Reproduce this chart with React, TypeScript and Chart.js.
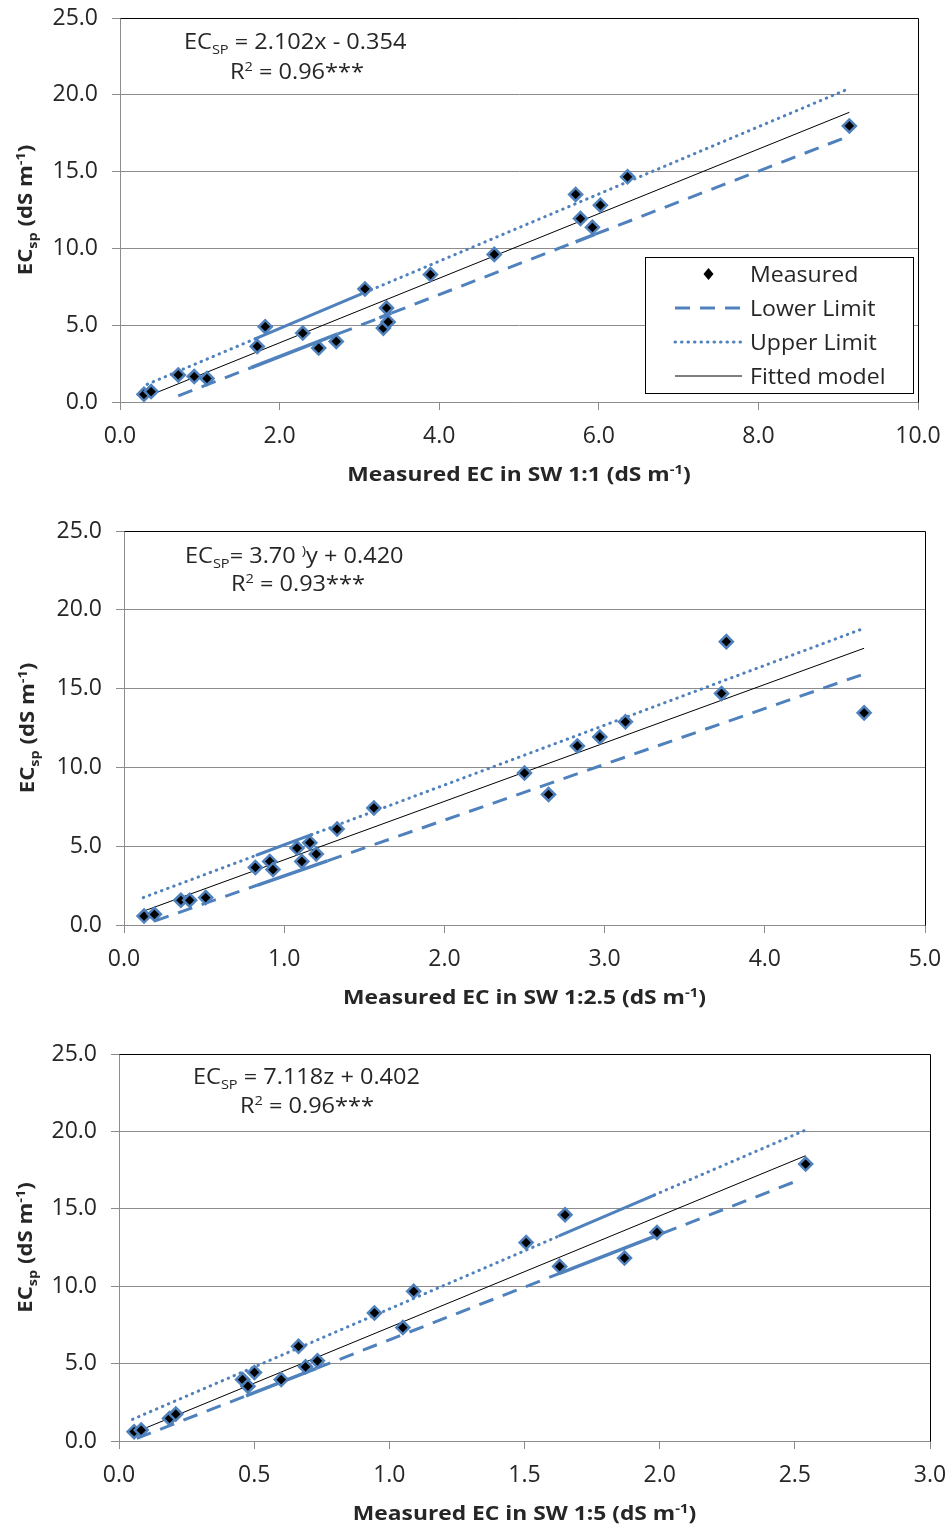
import React, { useEffect, useRef } from "react";
import { Chart, registerables } from "chart.js";

Chart.register(...registerables);

// ---------------- data ----------------
// Panel 1 : SW 1:1
const SW11_X = [0.30, 0.39, 0.73, 0.93, 1.09, 1.72, 1.82, 2.29, 2.49, 2.71, 3.07, 3.30, 3.34, 3.36, 3.89, 4.69, 5.71, 5.77, 5.92, 6.02, 6.36, 9.14];
const SW11_Y = [0.50, 0.68, 1.76, 1.66, 1.53, 3.62, 4.90, 4.49, 3.51, 3.94, 7.36, 4.81, 6.12, 5.21, 8.30, 9.61, 13.51, 11.94, 11.37, 12.81, 14.66, 17.97];
const SW11_FIT_X = [0.30, 9.14];
const SW11_FIT_Y = [0.28, 18.86];
const SW11_UP_X = [0.34, 1.70, 3.07, 9.12];
const SW11_UP_Y = [1.15, 4.13, 7.13, 20.37];
const SW11_LOW_X = [0.73, 1.64, 2.73, 3.25, 3.40, 5.71, 5.95, 9.12];
const SW11_LOW_Y = [0.40, 2.23, 4.43, 5.47, 5.78, 10.43, 10.91, 17.28];

// Panel 2 : SW 1:2.5
const SW125_X = [0.125, 0.19, 0.355, 0.41, 0.51, 0.82, 0.91, 0.93, 1.08, 1.11, 1.16, 1.20, 1.33, 1.56, 2.50, 2.65, 2.83, 2.97, 3.13, 3.73, 3.76, 4.62];
const SW125_Y = [0.57, 0.68, 1.57, 1.57, 1.74, 3.65, 4.03, 3.52, 4.88, 4.03, 5.22, 4.50, 6.09, 7.43, 9.64, 8.28, 11.36, 11.93, 12.89, 14.69, 17.98, 13.46];
const SW125_FIT_X = [0.125, 4.62];
const SW125_FIT_Y = [0.89, 17.56];
const SW125_UP_X = [0.12, 0.83, 1.17, 4.62];
const SW125_UP_Y = [1.74, 4.44, 5.73, 18.83];
const SW125_LOW_X = [0.19, 0.83, 1.27, 4.60];
const SW125_LOW_Y = [0.25, 2.52, 4.07, 15.86];

// Panel 3 : SW 1:5
const SW15_X = [0.056, 0.082, 0.187, 0.21, 0.457, 0.477, 0.501, 0.60, 0.664, 0.69, 0.734, 0.945, 1.05, 1.09, 1.506, 1.63, 1.65, 1.87, 1.99, 2.54];
const SW15_Y = [0.60, 0.71, 1.46, 1.74, 3.97, 3.54, 4.43, 3.97, 6.12, 4.79, 5.18, 8.27, 7.33, 9.67, 12.82, 11.28, 14.61, 11.82, 13.47, 17.89];
const SW15_FIT_X = [0.05, 2.54];
const SW15_FIT_Y = [0.49, 18.43];
const SW15_UP_X = [0.05, 1.63, 1.98, 2.54];
const SW15_UP_Y = [1.40, 13.26, 15.89, 20.09];
const SW15_LOW_X = [0.066, 0.47, 0.73, 1.63, 2.01, 2.51];
const SW15_LOW_Y = [0.17, 2.92, 4.69, 10.83, 13.41, 16.82];

// tick values
const Y_TICKS = [0, 5, 10, 15, 20, 25];
const X_TICKS_1 = [0, 2, 4, 6, 8, 10];
const X_TICKS_2 = [0, 1, 2, 3, 4, 5];
const X_TICKS_3 = [0, 0.5, 1, 1.5, 2, 2.5, 3];

const SERIES_NAMES = ["Measured", "Lower Limit", "Upper Limit", "Fitted model"];

// ---------------- styling ----------------
const FONT = "'Open Sans', sans-serif";
const TEXT = "#262626";
const BLUE = "#4f81bd";
const GRID = "#8c8c8c";
const STRETCH = 1.12;
const LOW_DASH = [15, 10];
const UP_DASH = [0.5, 6];

type Seg = [string, number]; // 0 normal, 1 sup, -1 sub

function segFont(size: number, weight: string, k: number) {
  const s = k === 0 ? size : Math.round(size * 0.64);
  return `${weight} ${s}px ${FONT}`;
}
function richWidth(ctx: CanvasRenderingContext2D, segs: Seg[], size: number, weight: string) {
  let w = 0;
  for (const [t, k] of segs) {
    ctx.font = segFont(size, weight, k);
    w += ctx.measureText(t).width;
  }
  return w;
}
function drawRich(ctx: CanvasRenderingContext2D, segs: Seg[], x: number, y: number, size: number, weight: string, align: "left" | "center", sx: number) {
  const w = richWidth(ctx, segs, size, weight) * sx;
  const x0 = align === "center" ? x - w / 2 : x;
  ctx.save();
  ctx.translate(x0, y);
  ctx.scale(sx, 1);
  let cx = 0;
  ctx.fillStyle = TEXT;
  ctx.textBaseline = "alphabetic";
  ctx.textAlign = "left";
  for (const [t, k] of segs) {
    ctx.font = segFont(size, weight, k);
    const dy = k === 1 ? -size * 0.36 : k === -1 ? size * 0.24 : 0;
    ctx.fillText(t, cx, dy);
    cx += ctx.measureText(t).width;
  }
  ctx.restore();
}

function zip(xs: number[], ys: number[]) {
  return xs.map((x, i) => ({ x, y: ys[i] }));
}

interface Panel {
  top: number;
  height: number;
  area: { left: number; right: number; top: number; bottom: number };
  xMax: number;
  xTicks: number[];
  xs: number[]; ys: number[];
  fitX: number[]; fitY: number[];
  upX: number[]; upY: number[];
  lowX: number[]; lowY: number[];
  upSolid: number[]; lowSolid: number[]; // segment indices drawn as overlapped (solid) strokes
  eq: Seg[];
  r2: Seg[];
  eqPos: [number, number, number, number];
  xTitle: Seg[];
  yTitleX: number;
  legend: boolean;
}

const Y_TITLE: Seg[] = [["EC", 0], ["sp", -1], [" (dS m", 0], ["-1", 1], [")", 0]];

const PANELS: Panel[] = [
  {
    top: 0, height: 505,
    area: { left: 120, right: 918, top: 18, bottom: 402 },
    xMax: 10, xTicks: X_TICKS_1,
    xs: SW11_X, ys: SW11_Y,
    fitX: SW11_FIT_X, fitY: SW11_FIT_Y, upX: SW11_UP_X, upY: SW11_UP_Y, lowX: SW11_LOW_X, lowY: SW11_LOW_Y,
    upSolid: [1], lowSolid: [1, 3, 5],
    eq: [["EC", 0], ["SP", -1], [" = 2.102x - 0.354", 0]],
    r2: [["R", 0], ["2", 1], [" = 0.96***", 0]],
    eqPos: [64, 31, 110, 61],
    xTitle: [["Measured EC in SW 1:1 (dS m", 0], ["-1", 1], [")", 0]],
    yTitleX: 32,
    legend: true,
  },
  {
    top: 505, height: 510,
    area: { left: 124, right: 925, top: 531, bottom: 925 },
    xMax: 5, xTicks: X_TICKS_2,
    xs: SW125_X, ys: SW125_Y,
    fitX: SW125_FIT_X, fitY: SW125_FIT_Y, upX: SW125_UP_X, upY: SW125_UP_Y, lowX: SW125_LOW_X, lowY: SW125_LOW_Y,
    upSolid: [1], lowSolid: [1],
    eq: [["EC", 0], ["SP", -1], ["= 3.70 ", 0], [")", 1], ["y + 0.420", 0]],
    r2: [["R", 0], ["2", 1], [" = 0.93***", 0]],
    eqPos: [61, 32, 107, 60],
    xTitle: [["Measured EC in SW 1:2.5 (dS m", 0], ["-1", 1], [")", 0]],
    yTitleX: 34,
    legend: false,
  },
  {
    top: 1015, height: 513,
    area: { left: 119, right: 930, top: 1054, bottom: 1441 },
    xMax: 3, xTicks: X_TICKS_3,
    xs: SW15_X, ys: SW15_Y,
    fitX: SW15_FIT_X, fitY: SW15_FIT_Y, upX: SW15_UP_X, upY: SW15_UP_Y, lowX: SW15_LOW_X, lowY: SW15_LOW_Y,
    upSolid: [1], lowSolid: [1, 3],
    eq: [["EC", 0], ["SP", -1], [" = 7.118z + 0.402", 0]],
    r2: [["R", 0], ["2", 1], [" = 0.96***", 0]],
    eqPos: [74, 30, 121, 59],
    xTitle: [["Measured EC in SW 1:5 (dS m", 0], ["-1", 1], [")", 0]],
    yTitleX: 32,
    legend: false,
  },
];

function makeDecor(p: Panel) {
  return {
    id: "decor",
    afterDraw(chart: any) {
      const ctx: CanvasRenderingContext2D = chart.ctx;
      const a = chart.chartArea;
      ctx.save();
      // plot frame top + right (black)
      ctx.strokeStyle = "#000";
      ctx.lineWidth = 1;
      ctx.beginPath();
      ctx.moveTo(Math.round(a.left) + 0.5, Math.round(a.top) + 0.5);
      ctx.lineTo(Math.round(a.right) + 0.5, Math.round(a.top) + 0.5);
      ctx.lineTo(Math.round(a.right) + 0.5, Math.round(a.bottom) + 0.5);
      ctx.stroke();

      // equation
      drawRich(ctx, p.eq, a.left + p.eqPos[0], a.top + p.eqPos[1], 21, "normal", "left", STRETCH);
      drawRich(ctx, p.r2, a.left + p.eqPos[2], a.top + p.eqPos[3], 21, "normal", "left", STRETCH);

      // x title
      drawRich(ctx, p.xTitle, (a.left + a.right) / 2, a.bottom + 79, 20, "bold", "center", 1.14);

      // y title (rotated)
      ctx.save();
      ctx.translate(p.yTitleX, (a.top + a.bottom) / 2);
      ctx.rotate(-Math.PI / 2);
      drawRich(ctx, Y_TITLE, 0, 0, 20, "bold", "center", 1.11);
      ctx.restore();

      if (p.legend) {
        const ds = chart.data.datasets;
        const bx = a.left + 525, by = a.top + 239;
        const bw = a.right - 5 - bx, bh = a.bottom - 9 - by;
        ctx.fillStyle = "#fff";
        ctx.fillRect(bx, by, bw, bh);
        ctx.strokeStyle = "#000";
        ctx.lineWidth = 1;
        ctx.strokeRect(Math.round(bx) + 0.5, Math.round(by) + 0.5, Math.round(bw), Math.round(bh));
        const rows = [17, 51, 85, 119];
        const lx0 = bx + 30, lx1 = bx + 97, tx = bx + 105;
        ds.forEach((d: any, i: number) => {
          const cy = by + rows[i];
          if (i === 0) {
            ctx.fillStyle = "#000";
            ctx.beginPath();
            const mx = (lx0 + lx1) / 2;
            ctx.moveTo(mx, cy - 6);
            ctx.lineTo(mx + 5, cy);
            ctx.lineTo(mx, cy + 6);
            ctx.lineTo(mx - 5, cy);
            ctx.closePath();
            ctx.fill();
          } else {
            ctx.save();
            ctx.strokeStyle = d.borderColor;
            ctx.lineWidth = d.borderWidth;
            ctx.lineCap = d.borderCapStyle || "butt";
            ctx.setLineDash(d.borderDash || []);
            ctx.beginPath();
            ctx.moveTo(lx0, cy);
            ctx.lineTo(lx1, cy);
            ctx.stroke();
            ctx.restore();
          }
          drawRich(ctx, [[d.label, 0]], tx, cy + 8, 21, "normal", "left", 1.1);
        });
      }
      ctx.restore();
    },
  };
}

function ChartPanel({ p }: { p: Panel }) {
  const ref = useRef<HTMLCanvasElement | null>(null);
  useEffect(() => {
    const canvas = ref.current!;
    const a = p.area;
    const yAxisW = a.left;
    const xAxisH = p.top + p.height - a.bottom;
    const chart = new Chart(canvas, {
      type: "scatter",
      data: {
        datasets: [
          {
            label: SERIES_NAMES[0],
            data: zip(p.xs, p.ys),
            showLine: false,
            pointStyle: "rectRot",
            pointRadius: 6.5,
            pointBackgroundColor: "#000",
            pointBorderColor: BLUE,
            pointBorderWidth: 2.5,
            order: 0,
          },
          {
            label: SERIES_NAMES[1],
            data: zip(p.lowX, p.lowY),
            showLine: true,
            borderColor: BLUE,
            borderWidth: 3,
            borderDash: LOW_DASH,
            segment: {
              borderDash: (c: any) => (p.lowSolid.includes(c.p0DataIndex) ? [] : LOW_DASH),
              borderWidth: (c: any) => (p.lowSolid.includes(c.p0DataIndex) ? 3.5 : 3),
            },
            pointRadius: 0,
            order: 3,
          },
          {
            label: SERIES_NAMES[2],
            data: zip(p.upX, p.upY),
            showLine: true,
            borderColor: BLUE,
            borderWidth: 3,
            borderDash: UP_DASH,
            borderCapStyle: "round",
            segment: {
              borderDash: (c: any) => (p.upSolid.includes(c.p0DataIndex) ? [] : UP_DASH),
            },
            pointRadius: 0,
            order: 2,
          },
          {
            label: SERIES_NAMES[3],
            data: zip(p.fitX, p.fitY),
            showLine: true,
            borderColor: "#000",
            borderWidth: 1,
            pointRadius: 0,
            order: 1,
          },
        ] as any,
      },
      options: {
        animation: false,
        responsive: false,
        devicePixelRatio: 1,
        layout: {
          padding: { left: 0, top: a.top - p.top, right: 950 - a.right, bottom: 0 },
        },
        plugins: { legend: { display: false }, tooltip: { enabled: false } },
        scales: {
          x: {
            type: "linear",
            min: 0,
            max: p.xMax,
            afterFit: (s: any) => {
              s.height = xAxisH;
              s.paddingLeft = 0;
              s.paddingRight = 0;
            },
            afterBuildTicks: (s: any) => { s.ticks = p.xTicks.map((v) => ({ value: v })); },
            ticks: {
              callback: (v: any) => Number(v).toFixed(1),
              font: { family: FONT, size: 23 },
              color: TEXT,
              padding: 13,
              maxRotation: 0,
            },
            grid: { drawOnChartArea: false, drawTicks: true, tickLength: 8, color: GRID, tickColor: GRID },
            border: { color: GRID, width: 1 },
          },
          y: {
            type: "linear",
            min: 0,
            max: 25,
            afterFit: (s: any) => {
              s.width = yAxisW;
              s.paddingTop = 0;
              s.paddingBottom = 0;
            },
            afterBuildTicks: (s: any) => { s.ticks = Y_TICKS.map((v) => ({ value: v })); },
            ticks: {
              callback: (v: any) => Number(v).toFixed(1),
              font: { family: FONT, size: 23 },
              color: TEXT,
              padding: 14,
            },
            grid: {
              color: (c: any) => (c.tick && c.tick.value === 25 ? "#000" : GRID),
              drawTicks: true,
              tickLength: 8,
              tickColor: GRID,
            },
            border: { color: GRID, width: 1 },
          },
        },
      } as any,
      plugins: [makeDecor(p)],
    });
    return () => chart.destroy();
  }, [p]);
  return (
    <canvas
      ref={ref}
      width={950}
      height={p.height}
      style={{ position: "absolute", left: 0, top: p.top, width: 950, height: p.height, display: "block" }}
    />
  );
}

export default function App() {
  return (
    <div style={{ position: "absolute", left: 0, top: 0, width: 950, height: 1528, background: "#fff" }}>
      {PANELS.map((p, i) => (
        <ChartPanel key={i} p={p} />
      ))}
    </div>
  );
}
